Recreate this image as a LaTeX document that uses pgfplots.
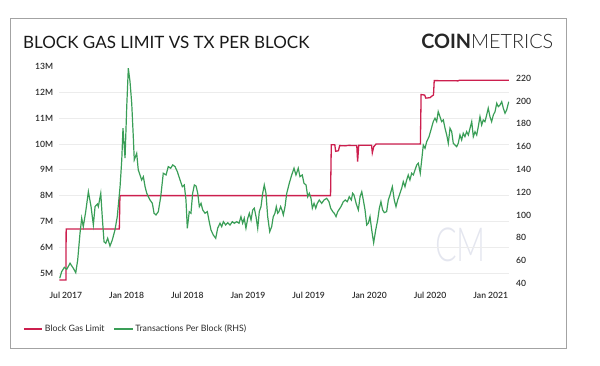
\documentclass[border=0pt]{standalone}
\usepackage{pgfplots}
\pgfplotsset{compat=1.18}
\usepackage{fontspec}
\setmainfont{Lato}
\newfontfamily\latolight{Lato Light}
\newfontfamily\latosemi{Lato Semibold}
\definecolor{gasred}{HTML}{CC1F4E}
\definecolor{txgreen}{HTML}{3A9E57}
\definecolor{gridgray}{HTML}{ECECEC}
\definecolor{framegray}{HTML}{A3A3A3}
\definecolor{ticktext}{HTML}{2A2A2A}
\definecolor{wm}{HTML}{E4E6EF}
\begin{document}
\begin{tikzpicture}[x=1pt,y=1pt]
\useasboundingbox (0,0) rectangle (600,366);
\draw[framegray, line width=0.9pt] (10.5,18) rectangle (566,347.4);
\node[anchor=base west, inner sep=0pt, font=\fontsize{17}{20}\selectfont, text=black!90] at (23,317.6) {BLOCK GAS LIMIT VS TX PER BLOCK};
\node[anchor=base east, inner sep=0pt, font=\fontsize{19.8}{20}\selectfont, text=black!85] at (553.5,317.6) {\textbf{COIN}{\latolight METRICS}};
\node[anchor=base west, inner sep=0pt, text=wm, font=\fontsize{47}{50}\latolight] at (435,104) {\scalebox{0.68}[1]{CM}};

\begin{axis}[
  at={(59pt,81pt)}, anchor=south west, scale only axis, width=450pt, height=221pt,
  xmin=2017.443, xmax=2021.150, ymin=4.535, ymax=13.104,
  axis line style={draw=none}, major tick length=0pt,
  /pgf/number format/assume math mode=true,
  xtick={2017.5,2018,2018.5,2019,2019.5,2020,2020.5,2021},
  xticklabels={Jul 2017,Jan 2018,Jul 2018,Jan 2019,Jul 2019,Jan 2020,Jul 2020,Jan 2021},
  ytick={5,6,7,8,9,10,11,12},
  yticklabels={5M,6M,7M,8M,9M,10M,11M,12M},
  extra y ticks={13}, extra y tick labels={13M}, extra y tick style={grid=none},
  ymajorgrids, grid style={gridgray, line width=0.8pt},
  tick label style={font=\fontsize{8.6}{10}\latosemi, text=ticktext},
  yticklabel style={anchor=east, inner sep=0pt, xshift=-5.7pt},
  xticklabel style={anchor=north, inner sep=0pt, yshift=-7pt},
  legend style={at={(-0.08,-0.199)}, anchor=west, draw=none, fill=none, legend columns=2,
    font=\fontsize{8.8}{10}\selectfont, text=ticktext, inner sep=0pt,
    nodes={inner xsep=2pt, inner ysep=1pt},
    /tikz/every even column/.append style={column sep=7pt}},
  legend image code/.code={\draw[#1] (0pt,0pt) -- (18.5pt,0pt);},
]
\addplot[gasred, line width=1.3pt] coordinates {
(2017.446,4.73)(2017.500,4.73)(2017.502,6.71)(2017.940,6.71)(2017.945,8.00)(2019.680,8.00)
(2019.686,9.97)(2019.715,9.97)(2019.722,9.72)(2019.745,9.74)(2019.755,9.94)(2019.800,9.93)
(2019.830,9.95)(2019.896,9.94)(2019.903,9.32)(2019.912,9.95)(2020.018,9.95)(2020.024,9.66)
(2020.036,9.90)(2020.055,10.00)(2020.420,10.00)(2020.426,11.92)(2020.455,11.90)(2020.465,11.78)
(2020.500,11.80)(2020.515,11.86)(2020.528,11.90)(2020.534,12.46)(2020.730,12.45)(2020.740,12.47)
(2021.148,12.47)
};
\addlegendentry{Block Gas Limit}
\addlegendimage{txgreen, line width=1.3pt}
\addlegendentry{Transactions Per Block (RHS)}
\end{axis}

\begin{axis}[
  at={(59pt,81pt)}, anchor=south west, scale only axis, width=450pt, height=221pt,
  xmin=2017.443, xmax=2021.150, ymin=38.51, ymax=232.5,
  axis y line*=right, hide x axis,
  axis line style={draw=none}, major tick length=0pt,
  ytick={40,60,80,100,120,140,160,180,200,220},
  yticklabels={40,60,80,100,120,140,160,180,200,220},
  tick label style={font=\fontsize{8.6}{10}\latosemi, text=ticktext},
  yticklabel style={anchor=west, inner sep=0pt, xshift=7pt},
]
\addplot[txgreen, line width=1.2pt] coordinates {
(2017.449,44.4)(2017.465,50.2)(2017.487,54.0)(2017.507,52.3)(2017.534,57.6)(2017.561,53.2)(2017.581,49.3)(2017.597,60.5)(2017.616,83.9)(2017.630,97.1)(2017.643,89.7)(2017.663,102.9)(2017.685,120.4)(2017.707,107.3)(2017.726,91.2)(2017.740,107.3)(2017.759,109.6)(2017.767,107.3)(2017.787,119.0)(2017.800,97.1)(2017.814,76.5)(2017.828,75.1)(2017.844,79.5)(2017.863,72.7)(2017.882,78.0)(2017.904,86.8)(2017.923,98.5)(2017.946,124.8)(2017.960,148.3)(2017.970,176.1)(2017.987,149.8)(2018.001,195.1)(2018.014,228.8)(2018.028,217.0)(2018.042,198.0)(2018.055,168.7)(2018.063,148.3)(2018.083,154.1)(2018.096,139.5)(2018.110,135.1)(2018.124,130.7)(2018.138,133.6)(2018.152,124.8)(2018.166,119.0)(2018.179,116.0)(2018.193,113.1)(2018.212,110.2)(2018.226,101.5)(2018.242,100.0)(2018.261,102.9)(2018.281,116.0)(2018.302,136.6)(2018.325,135.1)(2018.343,142.4)(2018.363,141.0)(2018.380,143.9)(2018.399,142.4)(2018.418,138.0)(2018.440,130.7)(2018.459,124.8)(2018.475,126.3)(2018.489,113.1)(2018.500,88.3)(2018.516,102.9)(2018.530,101.5)(2018.544,119.0)(2018.558,126.3)(2018.572,125.4)(2018.586,119.0)(2018.599,107.3)(2018.613,110.2)(2018.627,104.4)(2018.646,101.5)(2018.665,102.9)(2018.681,93.8)(2018.695,86.8)(2018.714,82.4)(2018.734,79.5)(2018.750,88.3)(2018.769,92.7)(2018.783,89.7)(2018.797,94.1)(2018.816,91.2)(2018.833,93.2)(2018.852,91.2)(2018.871,94.1)(2018.887,92.7)(2018.907,94.1)(2018.926,92.7)(2018.942,98.5)(2018.956,92.7)(2018.969,97.1)(2018.983,88.3)(2018.998,97.1)(2019.011,101.5)(2019.025,95.6)(2019.039,104.4)(2019.052,105.9)(2019.066,98.5)(2019.080,88.3)(2019.093,102.9)(2019.107,107.3)(2019.121,119.0)(2019.134,126.3)(2019.148,119.0)(2019.162,98.5)(2019.179,85.3)(2019.195,89.7)(2019.208,98.5)(2019.222,101.5)(2019.233,107.3)(2019.245,101.5)(2019.255,102.9)(2019.269,107.3)(2019.282,103.5)(2019.291,100.0)(2019.305,107.3)(2019.319,119.0)(2019.340,127.8)(2019.360,135.1)(2019.379,141.0)(2019.395,135.1)(2019.414,141.0)(2019.428,133.6)(2019.447,135.1)(2019.461,127.8)(2019.478,126.3)(2019.492,116.0)(2019.505,119.0)(2019.519,114.6)(2019.530,105.9)(2019.544,110.2)(2019.558,105.9)(2019.571,110.2)(2019.587,113.1)(2019.607,110.2)(2019.626,113.1)(2019.648,114.6)(2019.667,111.6)(2019.681,105.9)(2019.698,102.9)(2019.711,101.5)(2019.725,98.5)(2019.739,102.9)(2019.752,105.0)(2019.766,107.3)(2019.785,111.6)(2019.801,113.1)(2019.818,111.6)(2019.834,116.0)(2019.851,113.1)(2019.862,119.0)(2019.873,117.5)(2019.892,109.6)(2019.909,104.4)(2019.923,116.0)(2019.937,120.4)(2019.950,113.1)(2019.964,104.4)(2019.978,91.2)(2019.991,92.7)(2020.005,98.5)(2020.019,86.8)(2020.035,75.6)(2020.052,86.8)(2020.068,95.6)(2020.082,105.9)(2020.095,111.6)(2020.109,104.4)(2020.123,102.0)(2020.142,102.9)(2020.156,113.1)(2020.170,117.5)(2020.189,124.8)(2020.205,113.1)(2020.219,107.3)(2020.233,113.1)(2020.252,119.0)(2020.266,123.4)(2020.279,129.2)(2020.293,124.8)(2020.307,130.7)(2020.320,135.1)(2020.334,130.7)(2020.348,136.6)(2020.362,135.1)(2020.376,139.5)(2020.390,143.9)(2020.403,145.4)(2020.419,136.6)(2020.431,148.3)(2020.444,161.4)(2020.458,158.5)(2020.472,164.3)(2020.491,168.7)(2020.507,174.6)(2020.526,181.9)(2020.540,184.9)(2020.554,181.9)(2020.567,190.7)(2020.581,186.3)(2020.595,181.9)(2020.609,183.4)(2020.623,176.1)(2020.637,170.2)(2020.650,162.9)(2020.664,176.1)(2020.678,173.1)(2020.691,162.9)(2020.705,161.4)(2020.719,159.9)(2020.732,162.9)(2020.746,170.2)(2020.760,165.8)(2020.773,171.7)(2020.787,168.7)(2020.801,173.1)(2020.815,170.2)(2020.829,176.1)(2020.843,181.9)(2020.856,168.7)(2020.870,173.1)(2020.884,170.2)(2020.897,177.5)(2020.911,186.3)(2020.925,179.0)(2020.938,183.4)(2020.952,181.9)(2020.966,187.8)(2020.979,193.7)(2020.993,186.3)(2021.007,181.9)(2021.021,187.8)(2021.035,190.7)(2021.049,198.0)(2021.062,195.1)(2021.076,196.5)(2021.090,199.4)(2021.103,193.7)(2021.117,189.3)(2021.131,192.2)(2021.148,199.4)
};
\end{axis}
\end{tikzpicture}
\end{document}
